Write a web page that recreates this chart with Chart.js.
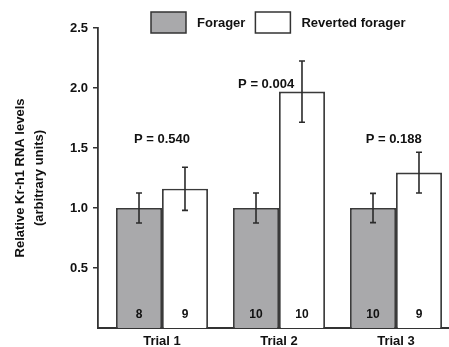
<!DOCTYPE html>
<html>
<head>
<meta charset="utf-8">
<script src="https://cdn.jsdelivr.net/npm/chart.js@4.4.0/dist/chart.umd.min.js"></script>
<style>
html,body{margin:0;padding:0;background:#fff;overflow:hidden}
#wrap{width:449px;height:347px;position:relative}
</style>
</head>
<body>
<div id="wrap"><canvas id="myChart"></canvas></div>
<script>
var ensayos = ['Trial 1','Trial 2','Trial 3'];
var posiciones = [1,2,3];
var forager = [1.0,1.0,1.0];
var foragerErr = [0.125,0.125,0.122];
var revertido = [1.16,1.97,1.295];
var revertidoErr = [0.18,0.255,0.17];
var nForager = ['8','10','10'];
var nRevertido = ['9','10','9'];
var pValores = ['P = 0.540','P = 0.004','P = 0.188'];
var yTicks = [0.5,1.0,1.5,2.0,2.5];

var tinta = '#2b2b2b';
var gris = '#a9a9ab';
var fuente = 'Liberation Sans, Arial, sans-serif';

var extras = {
	id: 'extras',
	afterDatasetsDraw: function(chart){
		var ctx = chart.ctx;
		var x = chart.scales.x, y = chart.scales.y;
		ctx.save();
		// barras de error
		ctx.strokeStyle = tinta;
		ctx.lineWidth = 1.6;
		[[forager,foragerErr],[revertido,revertidoErr]].forEach(function(par, d){
			var meta = chart.getDatasetMeta(d);
			meta.data.forEach(function(bar, i){
				var top = y.getPixelForValue(par[0][i] + par[1][i]);
				var bot = y.getPixelForValue(par[0][i] - par[1][i]);
				ctx.beginPath();
				ctx.moveTo(bar.x, top); ctx.lineTo(bar.x, bot);
				ctx.moveTo(bar.x-3, top); ctx.lineTo(bar.x+3, top);
				ctx.moveTo(bar.x-3, bot); ctx.lineTo(bar.x+3, bot);
				ctx.stroke();
			});
		});
		// n dentro de las barras
		ctx.fillStyle = '#111';
		ctx.font = 'bold 12px ' + fuente;
		ctx.textAlign = 'center';
		ctx.textBaseline = 'middle';
		var base = y.getPixelForValue(0);
		[nForager, nRevertido].forEach(function(ns, d){
			chart.getDatasetMeta(d).data.forEach(function(bar, i){
				ctx.fillText(ns[i], bar.x, base - 13);
			});
		});
		// valores P
		ctx.font = 'bold 13px ' + fuente;
		var px = [0, -0.11, -0.02];
		var py = [1.575, 2.03, 1.575];
		pValores.forEach(function(t, i){
			ctx.fillText(t, x.getPixelForValue(posiciones[i] + px[i]), y.getPixelForValue(py[i]));
		});
		// leyenda
		var items = [['Forager', gris], ['Reverted forager', '#fff']];
		var lx = 151;
		ctx.textAlign = 'left';
		ctx.lineWidth = 1.5;
		items.forEach(function(it){
			ctx.fillStyle = it[1];
			ctx.fillRect(lx, 12, 35, 21);
			ctx.strokeStyle = '#333';
			ctx.strokeRect(lx, 12, 35, 21);
			ctx.fillStyle = '#111';
			ctx.fillText(it[0], lx + 46, 23);
			lx += 46 + ctx.measureText(it[0]).width + 10;
		});
		ctx.restore();
	}
};

var datos = {
	datasets: [
		{
			label: 'Forager',
			data: posiciones.map(function(p,i){ return {x:p, y:forager[i]}; }),
			backgroundColor: gris,
			borderColor: '#3a3a3a',
			borderWidth: 1.8,
			borderSkipped: 'bottom'
		},
		{
			label: 'Reverted forager',
			data: posiciones.map(function(p,i){ return {x:p, y:revertido[i]}; }),
			backgroundColor: '#fff',
			borderColor: '#3a3a3a',
			borderWidth: 1.8,
			borderSkipped: 'bottom'
		}
	]
};

var opciones = {
	responsive: true,
	maintainAspectRatio: false,
	animation: false,
	barPercentage: 1,
	categoryPercentage: 0.786,
	layout: { padding: { top: 28, right: 0, left: 0, bottom: 0 } },
	plugins: {
		legend: { display: false },
		tooltip: { enabled: false }
	},
	scales: {
		x: {
			type: 'linear',
			min: 0.453,
			max: 3.453,
			offset: false,
			afterFit: function(ax){ ax.height = 19; },
			grid: { display: true, drawOnChartArea: false, drawTicks: false, offset: false },
			border: { color: '#333', width: 2 },
			afterBuildTicks: function(ax){ ax.ticks = posiciones.map(function(v){ return {value:v}; }); },
			ticks: {
				padding: 6,
				color: '#111',
				maxRotation: 0,
				font: { family: fuente, size: 13, weight: 'bold' },
				callback: function(v){ return ensayos[posiciones.indexOf(v)]; }
			}
		},
		y: {
			min: 0,
			max: 2.5,
			afterFit: function(ax){ ax.width = 98; },
			afterBuildTicks: function(ax){ ax.ticks = yTicks.map(function(v){ return {value:v}; }); },
			grid: { drawOnChartArea: false, drawTicks: true, tickLength: 5, color: '#333', lineWidth: 1.5 },
			border: { color: '#333', width: 1.8 },
			ticks: {
				padding: 5,
				color: '#111',
				font: { family: fuente, size: 13, weight: 'bold' },
				callback: function(v){ return v.toFixed(1); }
			},
			title: {
				display: true,
				text: ['Relative Kr-h1 RNA levels', '(arbitrary units)'],
				color: '#111',
				padding: { top: 11, bottom: 0 },
				font: { family: fuente, size: 13, weight: 'bold', lineHeight: 1.46 }
			}
		}
	}
};

var myChart = new Chart(document.getElementById('myChart'), {
	type: 'bar',
	data: datos,
	options: opciones,
	plugins: [extras]
});
</script>
</body>
</html>
